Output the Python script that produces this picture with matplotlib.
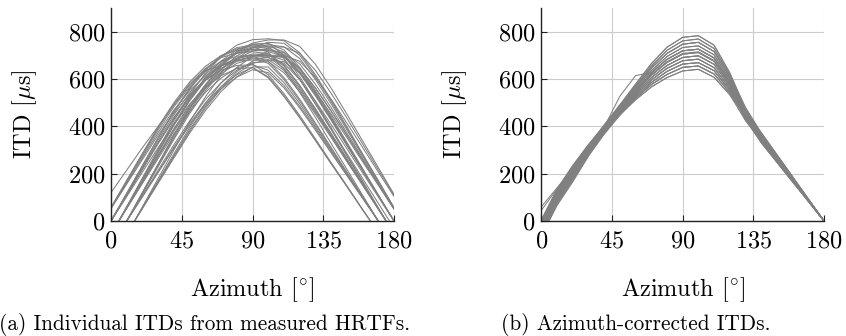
import matplotlib
matplotlib.use("Agg")
import matplotlib.pyplot as plt

plt.rcParams['font.family'] = ['cmr10', 'DejaVu Serif']
plt.rcParams['mathtext.fontset'] = 'cm'
plt.rcParams['axes.formatter.use_mathtext'] = True

azimuth = [0, 10, 20, 30, 40, 50, 60, 70, 80, 90, 100, 110, 120, 130, 140, 150, 160, 170, 180]

itd_measured = [
    [-56, 56, 168, 280, 390, 490, 575, 640, 685, 706, 702, 655, 570, 472, 368, 262, 158, 52, -52],
    [0, 109, 218, 327, 430, 520, 593, 646, 678, 690, 666, 598, 507, 408, 306, 204, 102, 0, -102],
    [-115, 0, 115, 230, 345, 454, 550, 627, 684, 718, 730, 704, 632, 537, 432, 324, 216, 108, 0],
    [-59, 59, 177, 296, 412, 517, 607, 676, 723, 746, 750, 723, 649, 551, 444, 333, 222, 111, 0],
    [0, 110, 221, 331, 436, 527, 601, 656, 688, 700, 692, 646, 562, 465, 363, 258, 156, 51, -51],
    [-107, 0, 107, 215, 322, 423, 513, 584, 637, 669, 673, 627, 546, 452, 353, 251, 151, 50, -50],
    [-170, -57, 57, 170, 284, 395, 497, 583, 649, 695, 716, 695, 624, 529, 426, 319, 213, 106, 0],
    [52, 156, 260, 363, 456, 535, 595, 637, 657, 660, 637, 572, 485, 391, 293, 195, 98, 0, -98],
    [-61, 61, 182, 304, 423, 532, 624, 694, 743, 766, 770, 762, 711, 618, 512, 399, 284, 171, 56],
    [0, 117, 233, 350, 461, 557, 636, 693, 727, 740, 740, 714, 641, 544, 438, 328, 219, 109, 0],
    [-102, 0, 102, 205, 307, 404, 490, 558, 608, 639, 627, 563, 478, 384, 288, 192, 96, 0, -96],
    [120, 215, 310, 400, 490, 575, 636, 655, 680, 695, 700, 680, 600, 495, 390, 285, 180, 75, -30],
    [-180, -60, 60, 180, 300, 417, 524, 615, 685, 733, 755, 751, 701, 610, 505, 394, 280, 169, 56],
    [-55, 55, 166, 276, 385, 483, 567, 631, 675, 696, 675, 606, 515, 414, 311, 207, 104, 0, -104],
    [0, 114, 227, 341, 448, 542, 619, 674, 708, 720, 720, 712, 664, 578, 479, 373, 266, 160, 53],
    [-117, 0, 117, 235, 352, 464, 561, 640, 698, 732, 745, 736, 687, 598, 495, 386, 275, 166, 55],
    [56, 169, 282, 393, 493, 579, 644, 690, 711, 715, 707, 660, 574, 475, 371, 264, 159, 52, -52],
    [-163, -54, 54, 163, 272, 379, 476, 559, 622, 666, 682, 637, 554, 459, 358, 255, 154, 51, -51],
    [-53, 53, 159, 264, 368, 463, 543, 604, 647, 663, 618, 538, 446, 347, 247, 149, 49, -49, -149],
    [0, 110, 221, 331, 436, 527, 601, 656, 688, 700, 700, 700, 675, 606, 515, 414, 311, 207, 104],
    [-104, 0, 104, 208, 312, 411, 498, 567, 618, 649, 609, 530, 439, 342, 244, 147, 48, -48, -147],
    [-58, 58, 174, 290, 404, 507, 595, 662, 709, 731, 735, 735, 709, 637, 540, 435, 326, 217, 109],
    [57, 172, 286, 398, 500, 587, 653, 699, 721, 725, 725, 699, 628, 533, 429, 322, 214, 107, 0],
    [-160, -53, 53, 160, 266, 371, 466, 547, 609, 651, 651, 585, 496, 399, 300, 200, 100, 0, -100],
    [0, 103, 207, 310, 408, 494, 563, 614, 644, 648, 605, 526, 436, 340, 242, 146, 48, -48, -146],
    [-121, 0, 121, 241, 362, 476, 576, 657, 716, 752, 765, 765, 738, 662, 562, 452, 339, 226, 113],
    [55, 166, 276, 385, 483, 567, 631, 675, 696, 700, 700, 692, 646, 562, 465, 363, 258, 156, 51],
    [-54, 54, 163, 272, 379, 476, 559, 622, 666, 686, 690, 666, 598, 507, 408, 306, 204, 102, 0],
    [0, 117, 235, 352, 464, 561, 640, 698, 732, 745, 736, 687, 598, 495, 386, 275, 166, 55, -55],
    [-120, 0, 120, 240, 360, 473, 572, 653, 712, 747, 751, 701, 610, 505, 394, 280, 169, 56, -56],
    [54, 161, 268, 374, 469, 551, 613, 656, 676, 680, 680, 673, 627, 546, 452, 353, 251, 151, 50],
    [-166, -55, 55, 166, 276, 385, 483, 567, 631, 675, 696, 692, 646, 562, 465, 363, 258, 156, 51],
    [-58, 58, 175, 292, 406, 511, 599, 667, 714, 736, 714, 641, 544, 438, 328, 219, 109, 0, -109],
]

itd_corrected = [
    [-20, 110, 210, 305, 390, 470, 545, 615, 670, 705, 712, 675, 580, 450, 352, 264, 176, 88, 0],
    [-40, 90, 190, 288, 372, 447, 512, 566, 606, 634, 641, 607, 534, 424, 338, 253, 169, 84, 0],
    [-10, 120, 220, 315, 404, 491, 578, 664, 734, 776, 783, 743, 626, 477, 366, 275, 183, 92, 0],
    [-50, 80, 180, 282, 372, 453, 525, 585, 632, 663, 669, 635, 552, 442, 352, 264, 176, 88, 0],
    [-20, 110, 210, 307, 396, 481, 565, 645, 708, 747, 755, 716, 608, 452, 345, 259, 172, 86, 0],
    [-5, 125, 225, 315, 394, 469, 538, 605, 657, 691, 698, 662, 571, 453, 359, 269, 180, 90, 0],
    [-30, 100, 200, 299, 388, 472, 552, 625, 683, 719, 726, 689, 589, 434, 331, 248, 165, 83, 0],
    [-60, 70, 170, 275, 366, 447, 519, 576, 619, 649, 655, 621, 543, 452, 366, 275, 183, 92, 0],
    [0, 130, 230, 321, 406, 489, 571, 654, 721, 761, 769, 729, 617, 480, 373, 280, 187, 93, 0],
    [-15, 115, 215, 308, 388, 463, 532, 595, 645, 677, 684, 648, 561, 439, 345, 259, 172, 86, 0],
    [-45, 85, 185, 289, 384, 473, 558, 635, 695, 733, 740, 702, 599, 461, 359, 269, 180, 90, 0],
    [-65, 65, 165, 274, 372, 461, 545, 615, 670, 705, 712, 675, 580, 437, 338, 253, 169, 84, 0],
    [-10, 120, 220, 310, 388, 461, 525, 585, 632, 663, 669, 635, 552, 461, 373, 280, 187, 93, 0],
    [-35, 95, 195, 297, 390, 478, 565, 645, 708, 747, 755, 716, 608, 458, 352, 264, 176, 88, 0],
    [-25, 105, 205, 301, 386, 465, 538, 605, 657, 691, 698, 662, 571, 428, 331, 248, 165, 83, 0],
    [0, 130, 230, 320, 400, 478, 552, 625, 683, 719, 726, 689, 589, 466, 366, 275, 183, 92, 0],
    [-20, 110, 210, 303, 382, 455, 519, 576, 619, 649, 655, 621, 543, 439, 352, 264, 176, 88, 0],
    [-50, 80, 180, 286, 386, 479, 571, 654, 721, 761, 769, 729, 617, 455, 345, 259, 172, 86, 0],
    [-40, 90, 190, 290, 378, 458, 532, 595, 645, 677, 684, 648, 561, 464, 373, 280, 187, 93, 0],
    [-15, 115, 215, 310, 396, 479, 558, 635, 695, 733, 740, 702, 599, 442, 338, 253, 169, 84, 0],
    [-5, 125, 225, 313, 386, 454, 512, 566, 606, 634, 641, 607, 534, 443, 359, 269, 180, 90, 0],
    [-30, 100, 200, 301, 396, 487, 578, 664, 734, 776, 783, 743, 626, 464, 352, 264, 176, 88, 0],
    [60, 140, 220, 310, 392, 472, 548, 618, 673, 708, 715, 678, 582, 452, 354, 265, 177, 88, 0],
    [45, 135, 212, 304, 386, 462, 532, 595, 645, 677, 684, 648, 561, 451, 359, 269, 180, 90, 0],
    [-10, 120, 220, 313, 396, 527, 614, 628, 683, 719, 726, 689, 589, 453, 352, 264, 176, 88, 0],
    [-30, 100, 200, 297, 384, 464, 538, 605, 657, 691, 698, 662, 571, 447, 352, 264, 176, 88, 0],
    [-20, 110, 210, 306, 392, 474, 552, 625, 683, 719, 726, 689, 589, 447, 345, 259, 172, 86, 0],
    [-15, 115, 215, 307, 386, 460, 525, 585, 632, 663, 669, 635, 552, 429, 338, 253, 169, 84, 0],
    [-55, 75, 175, 282, 382, 474, 565, 645, 708, 747, 755, 716, 608, 471, 366, 275, 183, 92, 0],
    [5, 135, 235, 323, 400, 475, 545, 615, 670, 705, 712, 675, 580, 456, 359, 269, 180, 90, 0],
    [-45, 85, 185, 286, 372, 450, 519, 576, 619, 649, 655, 621, 543, 433, 345, 259, 172, 86, 0],
]

x_ticks = [0, 45, 90, 135, 180]
y_ticks = [0, 200, 400, 600, 800]
x_label = r"Azimuth [$^{\circ}$]"
y_label = r"ITD [$\mu$s]"
captions = ["(a) Individual ITDs from measured HRTFs.", "(b) Azimuth-corrected ITDs."]

W, H = 846, 336
fig = plt.figure(figsize=(W / 100, H / 100), dpi=100)

axes_px = [(111, 394), (541.3, 824)]
top_px, bot_px = 8, 221
caption_cx = [205, 636]

for k, (data, (x0, x1)) in enumerate(zip([itd_measured, itd_corrected], axes_px)):
    ax = fig.add_axes([x0 / W, 1 - bot_px / H, (x1 - x0) / W, (bot_px - top_px) / H])
    for curve in data:
        ax.plot(azimuth, curve, color='#808080', lw=0.75, zorder=2)
    ax.set_xlim(0, 180)
    ax.set_ylim(0, 900)
    ax.set_xticks(x_ticks)
    ax.set_yticks(y_ticks)
    ax.grid(True, color='#cccccc', lw=0.8, zorder=0)
    ax.set_axisbelow(True)
    for s in ['top', 'right']:
        ax.spines[s].set_visible(False)
    for s in ['left', 'bottom']:
        ax.spines[s].set_color('#222222')
        ax.spines[s].set_linewidth(1.0)
        ax.spines[s].set_zorder(3)
    ax.tick_params(direction='in', length=4, width=0.8, color='#222222', labelsize=17.5)
    ax.tick_params(axis='x', pad=7)
    ax.tick_params(axis='y', pad=4)
    ax.set_xlabel(x_label, fontsize=17.5, labelpad=16)
    ax.set_ylabel(y_label, fontsize=17.5, labelpad=21)
    fig.text(caption_cx[k] / W, 1 - 325 / H, captions[k], fontsize=15.3, ha='center', va='center')

fig.savefig("out.png", dpi=100)
